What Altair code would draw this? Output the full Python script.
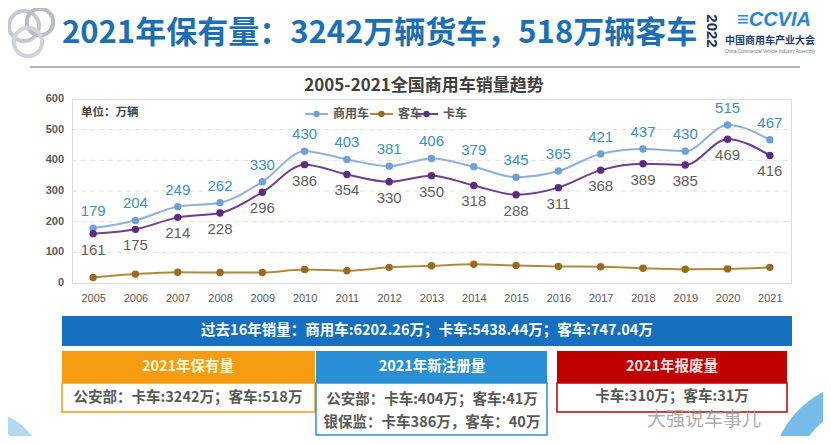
import altair as alt
import pandas as pd
import math

years = [str(y) for y in range(2005, 2022)]
commercial = [179, 204, 249, 262, 330, 430, 403, 381, 406, 379, 345, 365, 421, 437, 430, 515, 467]
truck = [161, 175, 214, 228, 296, 386, 354, 330, 350, 318, 288, 311, 368, 389, 385, 469, 416]
bus = [18, 29, 35, 34, 34, 44, 40, 51, 56, 61, 57, 54, 53, 48, 45, 46, 51]
series_names = ["商用车", "客车", "卡车"]
line_colors = ["#8db0dc", "#b08a3e", "#6b3f93"]
point_colors = ["#6f9fd8", "#9a6b1f", "#5a2d82"]
y_ticks = [0, 100, 200, 300, 400, 500, 600]

rows = []
for name, vals in zip(series_names, [commercial, bus, truck]):
    for y, v in zip(years, vals):
        rows.append({"year": y, "series": name, "value": v})
df = pd.DataFrame(rows)
ticks_df = pd.DataFrame({"value": y_ticks})
grid_df = pd.DataFrame({"value": y_ticks[1:-1]})

CJK = "Noto Sans CJK SC"
NUM = "Liberation Sans"
X0, Y0 = 72, 99
W, H = 719, 184
one = pd.DataFrame({"a": [0]})

x_enc = alt.X("year:O", scale=alt.Scale(type="point", padding=0.5), title=None,
              axis=alt.Axis(labelAngle=0, ticks=False, domain=False, labelPadding=9,
                            labelFontSize=11, labelColor="#595959", labelFont=NUM))
y_scale = alt.Scale(domain=[0, 600])

grid = alt.Chart(grid_df).mark_rule(color="#e0e0e0", strokeDash=[5, 4], strokeWidth=1).encode(
    y=alt.Y("value:Q", scale=y_scale, axis=None), x=alt.value(0), x2=alt.value(W))
ylabels = alt.Chart(ticks_df).mark_text(align="right", baseline="middle", fontSize=11, fontWeight="bold",
                                        color="#595959", font=NUM, dx=-8).encode(
    y=alt.Y("value:Q", scale=y_scale, axis=None), x=alt.value(0), text="value:Q")

lines = alt.Chart(df).mark_line(interpolate="monotone", strokeWidth=2).encode(
    x=x_enc, y=alt.Y("value:Q", scale=y_scale, axis=None),
    color=alt.Color("series:N", scale=alt.Scale(domain=series_names, range=line_colors), legend=None),
)
points = alt.Chart(df).mark_point(filled=True, size=55, opacity=1).encode(
    x="year:O", y=alt.Y("value:Q", scale=y_scale, axis=None),
    color=alt.Color("series:N", scale=alt.Scale(domain=series_names, range=point_colors), legend=None),
)
lab_c = alt.Chart(df).transform_filter(alt.datum.series == "商用车").mark_text(
    dy=-17, fontSize=15, color="#3d8fc4", font=NUM).encode(
    x="year:O", y=alt.Y("value:Q", scale=y_scale, axis=None), text="value:Q")
lab_t = alt.Chart(df).transform_filter(alt.datum.series == "卡车").mark_text(
    dy=16, fontSize=15, color="#5f5f5f", font=NUM).encode(
    x="year:O", y=alt.Y("value:Q", scale=y_scale, axis=None), text="value:Q")


def txt(px, py, s, size, color, weight="normal", font=CJK, align="center", angle=0, style="normal", opacity=1):
    return alt.Chart(one).mark_text(fontSize=size, color=color, fontWeight=weight, font=font,
                                    align=align, baseline="middle", angle=angle, fontStyle=style,
                                    opacity=opacity).encode(
        x=alt.value(px - X0), y=alt.value(py - Y0), text=alt.value(s))


def rect(x1, y1, x2, y2, fill, stroke=None, sw=0, opacity=1):
    kw = dict(fill=fill, opacity=opacity)
    if stroke:
        kw.update(stroke=stroke, strokeWidth=sw)
    return alt.Chart(one).mark_rect(**kw).encode(
        x=alt.value(x1 - X0), x2=alt.value(x2 - X0), y=alt.value(y1 - Y0), y2=alt.value(y2 - Y0))


def rule(x1, y1, x2, y2, color, sw):
    return alt.Chart(one).mark_rule(color=color, strokeWidth=sw).encode(
        x=alt.value(x1 - X0), x2=alt.value(x2 - X0), y=alt.value(y1 - Y0), y2=alt.value(y2 - Y0))


def ring(px, py, size, color, sw):
    return alt.Chart(one).mark_point(shape="circle", filled=False, size=size, color=color,
                                     strokeWidth=sw, opacity=1).encode(
        x=alt.value(px - X0), y=alt.value(py - Y0))


def arc(px, py, r1, r2, t1, t2, color, opacity):
    return alt.Chart(one).mark_arc(radius=r1, radius2=r2, theta=t1, theta2=t2, color=color,
                                   opacity=opacity).encode(
        x=alt.value(px - X0), y=alt.value(py - Y0))


deco = []
# corner swooshes
deco.append(arc(-15, 470, 42, 58, 0.2, math.pi / 2, "#7fc0ec", 0.6))
deco.append(arc(870, 480, 75, 100, 1.5 * math.pi, 1.85 * math.pi, "#3d9ee0", 0.7))
# top-left rings
deco += [ring(24, 26, 900, "#c5c8d2", 4), ring(40, 22, 700, "#b8bcc8", 4), ring(28, 42, 800, "#d0d3db", 4)]
# header
deco.append(txt(62, 34, "2021年保有量：3242万辆货车，518万辆客车", 31, "#1c6fb5", "bold", align="left"))
deco.append(rule(30, 67, 800, 67, "#b5b5b5", 2))
# logo
deco.append(txt(712, 31, "2022", 15, "#1e2f5c", "bold", font=NUM, angle=90))
deco.append(txt(774, 20, "≡CCVIA", 20, "#2a86d6", "bold", font=NUM, style="italic"))
deco.append(txt(770, 41, "中国商用车产业大会", 10, "#1e3a6e", "bold"))
deco.append(txt(770, 52, "China Commercial Vehicle Industry Assembly", 4.5, "#777777", font=NUM))
# chart title, unit
deco.append(txt(424, 86, "2005-2021全国商用车销量趋势", 17, "#404040", "bold"))
deco.append(txt(81, 113, "单位：万辆", 11.5, "#444444", "bold", align="left"))
# legend
for (lx, name, lc, pc) in [(305, "商用车", line_colors[0], point_colors[0]),
                           (370, "客车", line_colors[1], point_colors[1]),
                           (415, "卡车", line_colors[2], point_colors[2])]:
    deco.append(rule(lx, 114, lx + 23, 114, lc, 2))
    deco.append(alt.Chart(one).mark_point(filled=True, size=40, color=pc, opacity=1).encode(
        x=alt.value(lx + 11.5 - X0), y=alt.value(114 - Y0)))
    deco.append(txt(lx + 28, 114, name, 12, "#595959", "bold", align="left"))
# bottom banner
deco.append(rect(62, 316, 792, 346, "#1670bf"))
deco.append(txt(427, 331, "过去16年销量：商用车:6202.26万；卡车:5438.44万；客车:747.04万", 14.5, "#ffffff", "bold"))
# orange box
deco.append(rect(62, 383, 315, 412, "#ffffff", "#f39c12", 1.5))
deco.append(rect(62, 351, 315, 383, "#f59c12"))
deco.append(txt(188, 367, "2021年保有量", 14.5, "#fff6d8", "bold"))
deco.append(txt(188, 398, "公安部：卡车:3242万；客车:518万", 14.5, "#595959", "bold"))
# blue box
deco.append(rect(316, 383, 547, 435, "#ffffff", "#2b8fd6", 1.5))
deco.append(rect(316, 351, 547, 383, "#2b8fd6"))
deco.append(txt(432, 367, "2021年新注册量", 14.5, "#ffffff", "bold"))
deco.append(txt(432, 400, "公安部：卡车:404万；客车:41万", 14.5, "#595959", "bold"))
deco.append(txt(432, 423, "银保监：卡车386万，客车：40万", 14.5, "#595959", "bold"))
# red box
deco.append(rect(557, 383, 787, 412, "#ffffff", "#c00000", 1.5))
deco.append(rect(557, 351, 787, 383, "#c00000"))
deco.append(txt(672, 367, "2021年报废量", 14.5, "#ffe0e0", "bold"))
deco.append(txt(672, 397, "卡车:310万；客车:31万", 14.5, "#595959", "bold"))
# watermark
deco.append(txt(704, 420, "大强说车事儿", 19, "#9a9a9a", opacity=0.8))

chart = alt.layer(grid, ylabels, lines, points, lab_c, lab_t, *deco).resolve_scale(color="independent").properties(
    width=W, height=H,
    padding={"left": X0 - 8, "top": Y0 - 8, "right": 815 - (X0 - 8) - W, "bottom": 428 - (Y0 - 8) - H},
    autosize=alt.AutoSizeParams(type="none"),
).configure_view(stroke="#cfcfcf", strokeWidth=1.5).configure(background="#ffffff")

chart.save("out.html", embed_options={"renderer": "svg", "actions": False})
